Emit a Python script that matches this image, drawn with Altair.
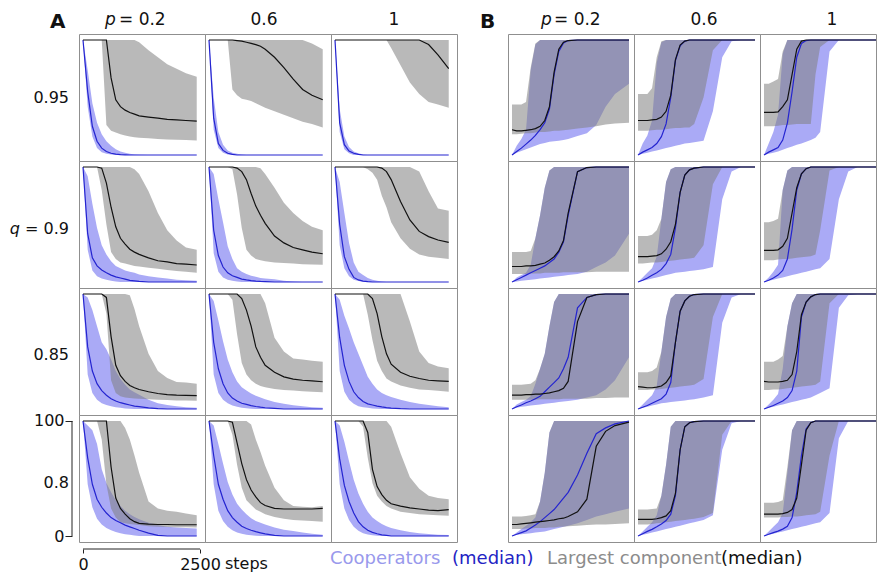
import altair as alt
import pandas as pd

# ---------------- data (values in %) ----------------
STEPS_A = [0, 100, 200, 300, 400, 500, 600, 700, 800, 900, 1000, 1100, 1200, 1400, 1600, 1800, 2000, 2200, 2430]
STEPS_B = [0, 100, 200, 300, 400, 500, 600, 700, 800, 900, 1000, 1100, 1200, 1400, 1600, 1800, 2000, 2200, 2500]
P_LABELS = ["0.2", "0.6", "1"]
Q_LABELS = ["0.95", "0.9", "0.85", "0.8"]
X_TICKS = [0, 2500]
Y_TICKS = [0, 100]
LEGEND_TEXT = ["Cooperators", "(median)", "Largest component", "(median)"]

# cells are row-major: index = row * 3 + col  (rows: q = 0.95, 0.9, 0.85, 0.8; cols: p = 0.2, 0.6, 1)
A_COOP_LO = [
    [100,42,16,6,2.5,1,0.4,0,0,0,0,0,0,0,0,0,0,0,0],
    [100,22,6,2,0.5,0,0,0,0,0,0,0,0,0,0,0,0,0,0],
    [100,20,5,1.5,0,0,0,0,0,0,0,0,0,0,0,0,0,0,0],
    [100,28,10,5,3,2,1,0.5,0,0,0,0,0,0,0,0,0,0,0],
    [100,25,9,4,2,1,0.5,0,0,0,0,0,0,0,0,0,0,0,0],
    [100,32,12,5,2,0.8,0.3,0,0,0,0,0,0,0,0,0,0,0,0],
    [100,30,14,8,5,3.5,2.5,1.5,1,0.5,0.3,0,0,0,0,0,0,0,0],
    [100,30,14,8,5,3,2,1.2,0.7,0.3,0,0,0,0,0,0,0,0,0],
    [100,33,15,8,4.5,2.5,1.5,1,0.5,0.2,0,0,0,0,0,0,0,0,0],
    [100,45,25,15,10,7,5,3.5,2.5,1.5,1,0.5,0,0,0,0,0,0,0],
    [100,45,22,13,8,5,3,2,1.2,0.6,0.2,0,0,0,0,0,0,0,0],
    [100,45,24,14,8,4.5,2.5,1.3,0.6,0.2,0,0,0,0,0,0,0,0,0],
]
A_COOP_HI = [
    [100,74,45,28,18,12,8,5,3,2,1,0.5,0.3,0,0,0,0,0,0],
    [100,50,20,9,4,2,1,0.5,0,0,0,0,0,0,0,0,0,0,0],
    [100,40,16,7,3,1.5,0.5,0,0,0,0,0,0,0,0,0,0,0,0],
    [100,92,68,47,32,24,18,14,12,10,9,8,6.5,5,4,3,2,1.5,1],
    [100,94,72,52,31,20,12,9,7,5.5,4.5,3.5,3,2.3,1.2,0.5,0,0,0],
    [100,87,60,34,17,9,6,3.5,2,1,0.5,0,0,0,0,0,0,0,0],
    [100,97,86,72,58,52,43,33,26,21,17,14.5,12.5,8,5,3.5,2.5,1.5,1],
    [100,94,77,59,43,32,24,19,16,13.5,11.5,10,8.5,6,4.5,3.3,2.3,1.5,1],
    [100,95,81,70,58,48,38,28,22,17,14,12,10.5,8,6,4.5,3.5,2.5,1.5],
    [100,96,92,80,58,46,38,31,26,22,19,16.5,14.5,11.5,9.5,8,7.5,7,6.5],
    [100,96,80,63,47,36,28,23,19,15.5,13,11.5,10,7.5,5.5,4.3,3,2,1],
    [100,96,82,65,49,37,28,21,16,13,10.5,8.5,7,5,3.5,2.5,1.8,1.2,0.8],
]
A_COOP_MED = [
    [100,55,25,12,6,3,1.5,0.8,0.4,0.2,0,0,0,0,0,0,0,0,0],
    [100,32,10,4,1.5,0.6,0,0,0,0,0,0,0,0,0,0,0,0,0],
    [100,28,9,3.5,1.5,0.5,0,0,0,0,0,0,0,0,0,0,0,0,0],
    [100,42,21,14,10.5,8,6,4.5,3.5,2.5,1.5,1,0.5,0,0,0,0,0,0],
    [100,45,23,13,8,5.5,4,2.5,1.8,1.2,0.8,0.5,0.3,0,0,0,0,0,0],
    [100,50,22,11,4,1.8,0.8,0.3,0,0,0,0,0,0,0,0,0,0,0],
    [100,54,33,22,16,12,9,7,5.5,4.5,3.5,2.5,2,1,0.3,0,0,0,0],
    [100,58,35,22,14,9.5,7,5,4,3,2.2,1.6,1.1,0.5,0,0,0,0,0],
    [100,62,38,24,15,10,6.5,4.5,3.5,2.5,1.8,1.2,0.8,0.3,0,0,0,0,0],
    [100,68,45,32,25,20,16,13.5,11.5,9.5,8,6.5,5,2.5,0.5,0,0,0,0],
    [100,70,45,32,22,16,12,8.5,6.5,5,3.8,2.8,1.8,0.5,0,0,0,0,0],
    [100,67,44,30,20,12.5,8,5,3.2,2,1,0.5,0,0,0,0,0,0,0],
]
A_COMP_LO = [
    [100,100,100,100,100,26,21,19.5,18,17,16,15.5,15,14.5,14,13.5,13.2,13,12.7],
    [100,100,100,100,100,57,52,49,48,47,45,43,41,38,35,32,29,27,24],
    [100,100,100,100,100,100,100,100,100,100,100,100,93,78,63,53,46,44,41],
    [100,100,100,100,80,50,26,20,17,16,15,14,13.5,12.5,11.5,10.5,9.6,9,8],
    [100,100,100,100,100,98,76,47,28,23,20,19,18,17,16.5,16,15.5,15.3,15],
    [100,100,100,100,100,100,100,98,95,89,75,65,52,38,29,24,22,21,20],
    [100,100,100,100,100,83,25,14,11,10,9.5,9.2,9,8.5,8,7.8,7.5,7.3,7.2],
    [100,100,100,100,100,95,65,40,30,25,22,20,19,17.5,16.5,16,15.5,15,14.5],
    [100,100,100,100,100,100,100,82,60,42,33,26.5,24,20.5,18.5,17,16.5,15.8,15],
    [100,100,100,100,84,45,24,16,12,11,10.5,10,9.5,8.5,8,7.8,7.7,7.6,7.5],
    [100,100,100,100,100,88,62,42,31,27,23,21,19,16.5,15,14,13.5,13,12.5],
    [100,100,100,100,100,100,95,68,46,35,30,26,24,21,20,19,18.5,18,17.7],
]
A_COMP_HI = [
    [100,100,100,100,100,100,100,100,100,100,100,100,98,91,85,79,75,71,68],
    [100,100,100,100,100,100,100,100,100,100,100,100,100,100,100,100,100,97,92],
    [100,100,100,100,100,100,100,100,100,100,100,100,100,100,100,100,100,100,100],
    [100,100,100,100,100,100,100,100,100,100,100,98,94,79,60,45,36,30,28],
    [100,100,100,100,100,100,100,100,100,100,100,99,94,82,69,60,53,48,45],
    [100,100,100,100,100,100,100,100,100,100,100,100,100,100,100,96,79,64,62],
    [100,100,100,100,100,100,100,100,100,100,99,87,72,48,33,27,23.5,23,22],
    [100,100,100,100,100,100,100,100,100,100,100,100,92,62,50,44,43,42,41],
    [100,100,100,100,100,100,100,100,100,100,100,100,100,100,76,50,40,37,35.5],
    [100,100,100,100,100,100,100,100,100,94,84,70,55,30,24,22,21,19.5,18],
    [100,100,100,100,100,100,100,100,100,97,84,73,61,42,31,26,25.5,25,26],
    [100,100,100,100,100,100,100,100,100,100,100,100,95,72,51,41,35,33,32],
]
A_COMP_MED = [
    [100,100,100,100,100,100,67,48,42,39,37,35.5,34,33,32,31,30.5,30,29.5],
    [100,100,100,100,100,100,99.5,99,98,97,96,94.5,92,85,76,66,57,52,48],
    [100,100,100,100,100,100,100,100,100,100,100,100,100,100,100,100,96,87,75],
    [100,100,100,100,99,86,65,48,38,33,28.5,26,24,21,18.5,17.5,16,15.5,14.8],
    [100,100,100,100,100,100,99,96,89,77,66,58,51,40,34,30,28,26,24.6],
    [100,100,100,100,100,100,100,100,100,100,99,96,89,70,54,44,39.5,36.5,34.5],
    [100,100,100,100,100,97,63,38,29,24,20.5,18.5,17,15,13.5,12.5,12,11.8,11.6],
    [100,100,100,100,100,100,100,96,86,72,54,45,38,32,28,26,25,24.5,23.7],
    [100,100,100,100,100,100,100,100,96,83,63,48,39,32,28.5,26.5,25,24.5,24],
    [100,100,100,100,100,100,60,33,24,19,15,12.5,11,10.3,10,10,9.8,9.8,9.8],
    [100,100,100,100,100,99,81,63,49,40,34,29,26.5,24,23.5,23.5,23.5,23.5,24],
    [100,100,100,100,100,100,100,90,58,43,36,31,28,26,24.5,23.5,22.5,22,23],
]

B_COOP_LO = [
    [0,2,3.5,5,6.5,8,9.5,10.5,11.5,12,12.5,13,14,16.5,19,26,42,53,62],
    [0,1,2,3,4,5,6,7,8,9,10,10.5,11,12.5,38,85,99,100,100],
    [0,1,2,3,4.5,6,7.5,9,10,11.5,13,15,20,90,100,100,100,100,100],
    [0,0.5,1,1.5,2,2.5,3,3.5,4,4.5,5,5.5,6,7,9,13,17,23,42],
    [0,1,2,3,4,5,6,7,8,8.5,9,9.5,10,11,13,72,96,100,100],
    [0,1,2,3,4,5,6,7,8,9,10,11,12,20,72,96,100,100,100],
    [0,1,2,2.5,3,3.5,4,4.5,5,5.5,6,6.5,7,8,10,12,17,25,45],
    [0,1,2,3,4,5,5.5,6,6.5,7,7.5,8,8.5,10,12,75,97,100,100],
    [0,1,2,3,4,5,6,7,8,9,10,12,14,18,88,99,100,100,100],
    [0,1,1.5,2,2.5,3,3.5,4,5,6,7,8,9,11,14,17,19,21,24],
    [0,1,2,3,4,5,6,7,8,9,10,11,12,14,18,75,98,100,100],
    [0,1,2,3,4,5,6,7,8,9,10,11,12,20,85,100,100,100,100],
]
B_COOP_HI = [
    [0,8,14,22,74,96,100,100,100,100,100,100,100,100,100,100,100,100,100],
    [0,10,17,30,80,98,100,100,100,100,100,100,100,100,100,100,100,100,100],
    [0,10,20,35,88,100,100,100,100,100,100,100,100,100,100,100,100,100,100],
    [0,4,6,8,15,38,58,82,97,100,100,100,100,100,100,100,100,100,100],
    [0,4,8,12,22,55,87,98,100,100,100,100,100,100,100,100,100,100,100],
    [0,4,9,15,80,97,100,100,100,100,100,100,100,100,100,100,100,100,100],
    [0,4,6,8,11,22,35,48,72,93,100,100,100,100,100,100,100,100,100],
    [0,4,8,12,20,50,80,96,100,100,100,100,100,100,100,100,100,100,100],
    [0,4,8,13,35,72,92,100,100,100,100,100,100,100,100,100,100,100,100],
    [0,3,6,9,12,16,30,55,90,100,100,100,100,100,100,100,100,100,100],
    [0,4,8,12,18,35,62,95,100,100,100,100,100,100,100,100,100,100,100],
    [0,4,8,12,20,55,92,100,100,100,100,100,100,100,100,100,100,100,100],
]
B_COOP_MED = [
    [0,3,6,9.5,13,17,22,28,40,70,90,97.5,99.5,100,100,100,100,100,100],
    [0,2.5,4.5,6.5,10,16,27,50,82,95,99,100,100,100,100,100,100,100,100],
    [0,2.5,4.5,6.5,13,28,55,85,97,99.5,100,100,100,100,100,100,100,100,100],
    [0,2,4,6,8,10,12,14,17,20,26,35,58,96,99.5,100,100,100,100],
    [0,1.5,3.5,5.8,8,11,16,24,47,78,93,97.5,99,100,100,100,100,100,100],
    [0,1.5,3.5,6,10,20,46,80,94,98.5,100,100,100,100,100,100,100,100,100],
    [0,2,3.5,5.5,7,9,11,15,19,23,27,35,45,88,97,99.5,100,100,100],
    [0,1.5,3,5,7,9,13,23,58,85,94,98,99.5,100,100,100,100,100,100],
    [0,1.5,3,5,7,10,16,33,80,93,97.5,99.5,100,100,100,100,100,100,100],
    [0,1.5,3,4.5,7,9.5,12.5,16,19.5,23,28,33,38,53,72,89,94,97.5,100],
    [0,2,4,5.8,8,10.5,13.5,19,35,75,95,98.5,99.5,100,100,100,100,100,100],
    [0,1.5,3,4.3,6,8.5,16,38,70,93,98.5,100,100,100,100,100,100,100,100],
]
B_COMP_LO = [
    [18,18,18.5,19,19,19.5,20,20,20.5,21,21,21.5,22,23,24,25,26.5,27.5,28],
    [21,21,21,21.5,22,22,22.5,23,23.5,23.5,24,24,27,50,91,100,100,100,100],
    [25,25,25,25.5,26,26,26.5,27,27,27,27,70,94,100,100,100,100,100,100],
    [7,7,7,7,7.5,7.5,7.5,8,8,8,8,8.5,8.5,8.5,8.5,9,9,9,9],
    [16,16,16.5,17,17,17.5,18,18.5,19,19.5,20,20.5,21,32,85,100,100,100,100],
    [19,19,19,19.5,20,20,20.5,21,21.5,22,22.5,24,45,97,100,100,100,100,100],
    [8,8,8,8,8,8,8.5,8.5,8.5,8.5,8.5,9,9,9,9,9.5,9.5,10,10],
    [16.5,16.5,16.5,17,17,17.5,18,18.5,19,19.5,20,20.5,21,26,80,100,100,100,100],
    [16.5,16.5,17,17,17.5,18,18.5,19,19.5,20,20.5,21,24,92,100,100,100,100,100],
    [6,6,6,6.5,6.5,7,7,7,7.5,7.5,8,8,8.5,9,9.5,10,10,10.5,11],
    [10,10,10,10.5,11,11.5,12,12.5,13,13.5,14,14.5,15,16.5,20,88,100,100,100],
    [16,16,16,16,16.5,16.5,17,17,17.5,18,18.5,19,21,70,100,100,100,100,100],
]
B_COMP_HI = [
    [44,44,44,46,76,97,100,100,100,100,100,100,100,100,100,100,100,100,100],
    [53,53,53,58,85,99,100,100,100,100,100,100,100,100,100,100,100,100,100],
    [62,62,64,66,90,100,100,100,100,100,100,100,100,100,100,100,100,100,100],
    [26,26,26,26,27,38,58,82,97,100,100,100,100,100,100,100,100,100,100],
    [40,40,40,41,45,55,87,98,100,100,100,100,100,100,100,100,100,100,100],
    [52,52,53,55,80,97,100,100,100,100,100,100,100,100,100,100,100,100,100],
    [21,21,21,21.5,22,25,35,48,72,93,100,100,100,100,100,100,100,100,100],
    [32,32,32,33,36,50,80,96,100,100,100,100,100,100,100,100,100,100,100],
    [41,41,41,43,46,72,92,100,100,100,100,100,100,100,100,100,100,100,100],
    [17,17,17,17.5,18,19,30,55,90,100,100,100,100,100,100,100,100,100,100],
    [23,23,23,23.5,24,35,62,95,100,100,100,100,100,100,100,100,100,100,100],
    [29,29,29,29.5,31,60,92,100,100,100,100,100,100,100,100,100,100,100,100],
]
B_COMP_MED = [
    [22,21,21,21.5,22,23,25,30,42,72,92,98,99.5,100,100,100,100,100,100],
    [30,30,30,30.5,31,33,38,52,83,95.5,99,100,100,100,100,100,100,100,100],
    [37,37,37,37.5,42,48,70,92,99,100,100,100,100,100,100,100,100,100,100],
    [13.5,13.5,13.5,14,14,14.5,15.5,16.5,19,22,27,36,60,96,99.5,100,100,100,100],
    [22,22,22,22.5,23,24.5,28.5,35,50,78,93,97.5,99,100,100,100,100,100,100],
    [27.5,27.5,27.5,28,31,38,60,82,94,98.5,100,100,100,100,100,100,100,100,100],
    [12,12,12,12.5,12.5,13,13,13.5,14,15,16,18,24,76,97,99.5,100,100,100],
    [19.5,19,18.5,18.5,19,20,23,29,58,85,94,98,99.5,100,100,100,100,100,100],
    [24,23.5,23.5,23.5,24,25,30,50,82,93,97.5,99.5,100,100,100,100,100,100,100],
    [10,10,10.5,11,11.5,12,12.5,13,13.5,14,15,15.5,17,21,32,78,91,96,99],
    [14.5,14.5,14.5,14.5,15,16,17.5,22,37,75,95,98.5,99.5,100,100,100,100,100,100],
    [19,19,19,19,19.5,20.5,23,33,62,92,98.5,100,100,100,100,100,100,100,100],
]

PANELS = {
    "A": dict(steps=STEPS_A, coop_lo=A_COOP_LO, coop_hi=A_COOP_HI, coop_med=A_COOP_MED,
              comp_lo=A_COMP_LO, comp_hi=A_COMP_HI, comp_med=A_COMP_MED),
    "B": dict(steps=STEPS_B, coop_lo=B_COOP_LO, coop_hi=B_COOP_HI, coop_med=B_COOP_MED,
              comp_lo=B_COMP_LO, comp_hi=B_COMP_HI, comp_med=B_COMP_MED),
}

# ---------------- style ----------------
FONT = "DejaVu Sans"
GRID = "#8f8f8f"
BLUE_BAND = "#aaaaf6"
GRAY_BAND = "#808080"
BLUE_LINE = "#2424d0"
BLACK = "#111111"
CELL_W, CELL_H = 126, 127
CUT_W = 116
GAP_W = 51
Y_DOMAIN = [-5.2, 105.2]

# title placements (relative to each top cell)
HEAD = {"A": dict(letter=-29, p=26, eq=40, c1=59, c2=63),
        "B": dict(letter=-28, p=33, eq=46, c1=70, c2=72)}
ROW_BASE = [69, 73, 72, 73]


def text(label, x, y, size, color="#111111", align="left", style="normal", weight="normal"):
    return alt.Chart(pd.DataFrame({"t": [label]})).mark_text(
        font=FONT, fontSize=size, color=color, align=align, baseline="alphabetic",
        fontStyle=style, fontWeight=weight,
    ).encode(text="t:N", x=alt.value(x), y=alt.value(y))


def cell(panel, r, c):
    d = PANELS[panel]
    i = r * 3 + c
    df = pd.DataFrame({
        "step": d["steps"],
        "coop_lo": d["coop_lo"][i], "coop_hi": d["coop_hi"][i], "coop_med": d["coop_med"][i],
        "comp_lo": d["comp_lo"][i], "comp_hi": d["comp_hi"][i], "comp_med": d["comp_med"][i],
    })
    cut = panel == "B" and c == 2
    width = CUT_W if cut else CELL_W
    xmax = (CUT_W - 4) * 2500 / 117 if cut else 2606.8
    xs = alt.Scale(domain=[-85.5, xmax], nice=False, zero=False)
    ys = alt.Scale(domain=Y_DOMAIN, nice=False, zero=False)

    with_axes = panel == "A" and r == 3 and c == 0
    if with_axes:
        xaxis = alt.Axis(values=X_TICKS, format="d", domain=False, grid=False, tickSize=4,
                         tickColor="#222222", offset=7, labelFont=FONT, labelFontSize=16,
                         labelColor="#111111", labelPadding=3, labelFlush=False, title=None)
        yaxis = alt.Axis(values=Y_TICKS, format="d", domain=False, grid=False, tickSize=7,
                         tickColor="#222222", offset=7, labelFont=FONT, labelFontSize=16,
                         labelColor="#111111", labelPadding=1, labelFlush=False, title=None)
    else:
        xaxis = None
        yaxis = None

    X = alt.X("step:Q", scale=xs, axis=xaxis)
    base = alt.Chart(df)
    layers = [
        base.mark_area(color=BLUE_BAND, opacity=1, clip=cut).encode(
            x=X, y=alt.Y("coop_lo:Q", scale=ys, axis=yaxis), y2="coop_hi:Q"),
        base.mark_area(color=GRAY_BAND, opacity=0.55, clip=cut).encode(
            x=X, y=alt.Y("comp_lo:Q", scale=ys, axis=yaxis), y2="comp_hi:Q"),
        base.mark_line(color=BLUE_LINE, strokeWidth=1.2, clip=cut).encode(
            x=X, y=alt.Y("coop_med:Q", scale=ys, axis=yaxis)),
        base.mark_line(color=BLACK, strokeWidth=1.2, clip=cut).encode(
            x=X, y=alt.Y("comp_med:Q", scale=ys, axis=yaxis)),
    ]

    if with_axes:
        yb = pd.DataFrame({"lo": [Y_TICKS[0]], "hi": [Y_TICKS[1]]})
        xb = pd.DataFrame({"lo": [X_TICKS[0]], "hi": [X_TICKS[1]], "t": ["steps"]})
        layers.append(alt.Chart(yb).mark_rule(color="#222222", strokeWidth=1).encode(
            y=alt.Y("lo:Q", scale=ys, axis=yaxis), y2="hi:Q", x=alt.value(-7)))
        layers.append(alt.Chart(xb).mark_rule(color="#222222", strokeWidth=1).encode(
            x=alt.X("lo:Q", scale=xs, axis=xaxis), x2="hi:Q", y=alt.value(CELL_H + 7)))
        layers.append(alt.Chart(xb).mark_text(font=FONT, fontSize=16, color="#111111",
                                              align="left", baseline="alphabetic", dx=25).encode(
            x=alt.X("hi:Q", scale=xs, axis=xaxis), y=alt.value(154), text="t:N"))

    h = HEAD[panel]
    if r == 0:
        if c == 0:
            layers.append(text(panel, h["letter"], -6, 20, weight="bold"))
            layers.append(text("p", h["p"], -9, 17, style="italic"))
            layers.append(text("= " + P_LABELS[0], h["eq"], -9, 17))
        elif c == 1:
            layers.append(text(P_LABELS[1], h["c1"], -9, 17, align="center"))
        else:
            layers.append(text(P_LABELS[2], h["c2"], -9, 17, align="center"))

    if panel == "A" and c == 0:
        if r == 1:
            layers.append(text("= " + Q_LABELS[r], -10, ROW_BASE[r], 16, align="right"))
            layers.append(text("q", -59, ROW_BASE[r], 16, align="right", style="italic"))
        else:
            layers.append(text(Q_LABELS[r], -10, ROW_BASE[r], 16, align="right"))

    if panel == "A" and r == 3 and c == 2:
        layers.append(text(LEGEND_TEXT[0], -1, 149, 18, color="#9999ec"))
        layers.append(text(LEGEND_TEXT[1], 121, 149, 18, color="#2323c4"))
        layers.append(text(LEGEND_TEXT[2], 216, 149, 18, color="#8c8c8c"))
        layers.append(text(LEGEND_TEXT[3], 390, 149, 18, color="#111111"))

    return alt.layer(*layers).properties(width=width, height=CELL_H)


def gap_cell():
    return alt.Chart(pd.DataFrame({"v": [0]})).mark_point(opacity=0).encode(
        x=alt.value(0), y=alt.value(0)
    ).properties(width=GAP_W, height=CELL_H, view=alt.ViewBackground(stroke=None))


cells = []
for r in range(4):
    cells += [cell("A", r, c) for c in range(3)]
    cells.append(gap_cell())
    cells += [cell("B", r, c) for c in range(3)]

chart = alt.concat(*cells, columns=7, spacing=0, bounds="flush", align="each").properties(
    padding={"left": 9, "top": 10, "right": 0, "bottom": 0},
    background="white",
).configure_view(stroke=GRID, strokeWidth=1).configure_text(font=FONT)

chart.save("out.html", embed_options={"renderer": "svg", "actions": False})
